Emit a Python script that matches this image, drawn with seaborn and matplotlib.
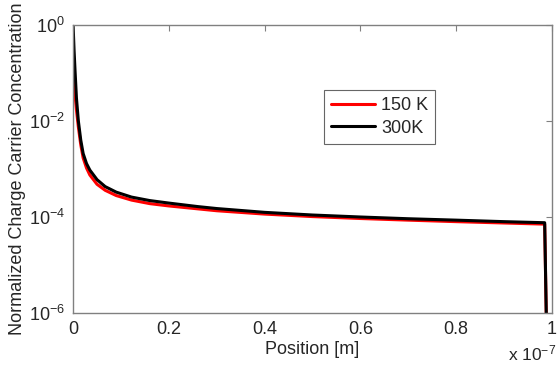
import numpy as np
import pandas as pd
import matplotlib
matplotlib.use("Agg")
import matplotlib.pyplot as plt
import matplotlib.ticker as mticker
import seaborn as sns

# position along the device, in units of 1e-7 m
position = [0.0, 0.002, 0.004, 0.007, 0.011, 0.016, 0.021, 0.028, 0.035, 0.05,
            0.067, 0.09, 0.122, 0.16, 0.2, 0.26, 0.3, 0.4, 0.5, 0.6,
            0.7, 0.8, 0.9, 0.985, 0.99]
conc_150K = [0.12, 0.06, 0.035, 0.017, 0.0075, 3.2e-3, 1.7e-3, 1.05e-3, 7.5e-4, 4.8e-4,
             3.6e-4, 2.8e-4, 2.25e-4, 1.9e-4, 1.7e-4, 1.48e-4, 1.35e-4, 1.15e-4, 1.02e-4, 9.3e-5,
             8.6e-5, 8.0e-5, 7.5e-5, 7.1e-5, 1e-7]
conc_300K = [1.0, 0.3, 0.115, 0.03, 0.01, 4.0e-3, 2.1e-3, 1.3e-3, 9.5e-4, 6.0e-4,
             4.3e-4, 3.3e-4, 2.6e-4, 2.2e-4, 1.95e-4, 1.65e-4, 1.5e-4, 1.25e-4, 1.1e-4, 1.0e-4,
             9.2e-5, 8.6e-5, 8.0e-5, 7.6e-5, 1e-7]
labels = ["150 K", "300K"]
colors = ["#ff0000", "#000000"]

sns.set_style("white")
plt.rcParams['font.family'] = ['Liberation Sans', 'DejaVu Sans']
plt.rcParams['mathtext.fontset'] = 'custom'
plt.rcParams['mathtext.rm'] = 'Liberation Sans'
plt.rcParams['mathtext.it'] = 'Liberation Sans'

fig = plt.figure(figsize=(5.58, 3.68), dpi=100)
ax = fig.add_axes([0.131, 0.1495, 0.858, 0.7825])

for series, lab, col in zip([conc_150K, conc_300K], labels, colors):
    sns.lineplot(x=position, y=series, color=col, linewidth=2.2, label=lab, ax=ax)

ax.set_yscale('log')
ax.set_xlim(0, 1)
ax.set_ylim(1e-6, 1)
ax.set_xticks([0, 0.2, 0.4, 0.6, 0.8, 1])
ax.set_xticklabels(['0', '0.2', '0.4', '0.6', '0.8', '1'])
ax.yaxis.set_major_locator(mticker.FixedLocator([1e-6, 1e-4, 1e-2, 1]))
ax.yaxis.set_major_formatter(mticker.LogFormatterMathtext())
ax.yaxis.set_minor_locator(mticker.NullLocator())

ax.tick_params(direction='in', top=True, right=True, length=4, color='#808080',
               labelsize=13, pad=6)
for sp in ax.spines.values():
    sp.set_color('#808080')
    sp.set_linewidth(1.0)

ax.set_xlabel('Position [m]', fontsize=13, labelpad=2)
ax.set_ylabel('Normalized Charge Carrier Concentration', fontsize=13, labelpad=2)
fig.text(0.91, 0.012, r'x 10$^{-7}$', fontsize=12.5, ha='left', va='bottom')

leg = ax.legend(loc='upper left', bbox_to_anchor=(0.524, 0.774), fontsize=13,
                frameon=True, fancybox=False, edgecolor='#404040',
                handlelength=2.4, handletextpad=0.35, borderpad=0.4,
                labelspacing=0.3, borderaxespad=0)
leg.get_frame().set_linewidth(0.8)

fig.savefig('out.png', dpi=100)
